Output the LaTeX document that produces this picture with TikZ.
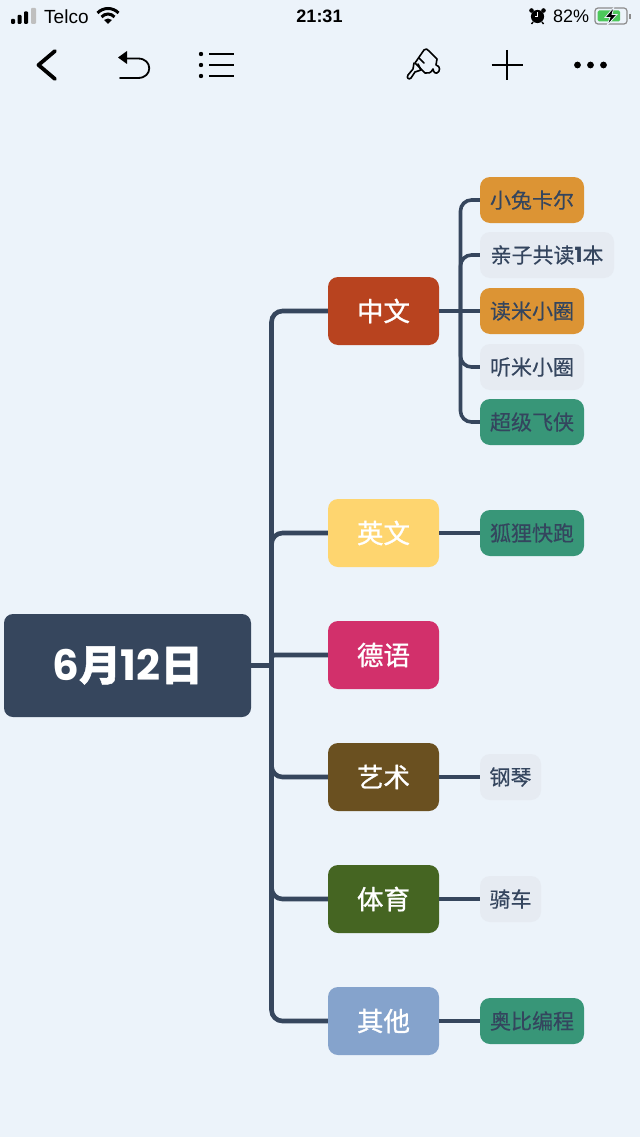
\documentclass[tikz,border=0pt]{standalone}
\usepackage{fontspec}
\setmainfont{Liberation Sans}
\newfontfamily\cjk[FakeBold=0.35]{Noto Sans CJK SC}
\newfontfamily\cjkmed[FakeBold=1.0]{Noto Sans CJK SC}
\newfontfamily\cjkroot[FakeBold=1.2]{Noto Sans CJK SC}
\newfontfamily\digits{Poppins}
\definecolor{bgc}{HTML}{ECF3FA}
\definecolor{linec}{HTML}{36465D}
\definecolor{leaftxt}{HTML}{34455E}
\definecolor{zhc}{HTML}{B8431F}
\definecolor{enc}{HTML}{FED56F}
\definecolor{dec}{HTML}{D2306B}
\definecolor{artc}{HTML}{6A5020}
\definecolor{sportc}{HTML}{456522}
\definecolor{otherc}{HTML}{85A3CC}
\definecolor{orangec}{HTML}{DC9434}
\definecolor{grayc}{HTML}{E6EBF2}
\definecolor{greenc}{HTML}{389678}
\definecolor{battc}{HTML}{4CC85A}
\tikzset{
  rootbox/.style={fill=linec,rounded corners=9pt,minimum width=247pt,minimum height=103pt,inner sep=0pt,text=white},
  branchbox/.style={rounded corners=10pt,minimum width=111pt,minimum height=68pt,inner sep=0pt,text=white,font=\cjkmed\fontsize{26.5}{26.5}\selectfont},
  leafbox/.style={rounded corners=10pt,minimum height=46pt,inner sep=0pt,text=leaftxt,font=\cjk\fontsize{21}{21}\selectfont},
  conn/.style={draw=linec,line width=4.6pt,rounded corners=11pt},
  thin conn/.style={draw=linec,line width=3.6pt,rounded corners=11pt},
  icon/.style={draw=black,line width=1.8pt,line cap=round,line join=round},
  statustext/.style={text=black,inner sep=0pt,font=\fontsize{18}{18}\selectfont}
}
\begin{document}
\begin{tikzpicture}[x=1pt,y=-1pt]
\useasboundingbox (0,0) rectangle (640,1137);
\fill[bgc] (0,0) rectangle (640,1137);
\coordinate (trunk) at (271.5,665.5);
\coordinate (zhbus) at (460.5,311);
\node[rootbox] (root) at (127.5,665.5) {\fontsize{42}{42}\selectfont\digits\bfseries 6{\cjkroot 月}12{\cjkroot 日}};
\node[branchbox,fill=zhc] (zh) at (383.5,311) {中文};
\node[branchbox,fill=enc] (en) at (383.5,533) {英文};
\node[branchbox,fill=dec] (de) at (383.5,655) {德语};
\node[branchbox,fill=artc] (art) at (383.5,777) {艺术};
\node[branchbox,fill=sportc] (sport) at (383.5,899) {体育};
\node[branchbox,fill=otherc] (other) at (383.5,1021) {其他};
\node[leafbox,fill=orangec,minimum width=104pt] (l1) at (532,200) {小兔卡尔};
\node[leafbox,fill=grayc,minimum width=134pt] (l2) at (547,255) {亲子共读{\digits\bfseries 1}本};
\node[leafbox,fill=orangec,minimum width=104pt] (l3) at (532,311) {读米小圈};
\node[leafbox,fill=grayc,minimum width=104pt] (l4) at (532,367) {听米小圈};
\node[leafbox,fill=greenc,minimum width=104pt] (l5) at (532,422) {超级飞侠};
\node[leafbox,fill=greenc,minimum width=104pt] (l6) at (532,533) {狐狸快跑};
\node[leafbox,fill=grayc,minimum width=61pt] (l7) at (510.5,777) {钢琴};
\node[leafbox,fill=grayc,minimum width=61pt] (l8) at (510.5,899) {骑车};
\node[leafbox,fill=greenc,minimum width=104pt] (l9) at (532,1021) {奥比编程};
\draw[conn] (root.east) -- (trunk);
\draw[conn] (trunk) |- (zh.west);
\draw[conn] (trunk) |- (en.west);
\draw[conn,rounded corners=3pt] (trunk) |- (de.west);
\draw[conn] (trunk) |- (art.west);
\draw[conn] (trunk) |- (sport.west);
\draw[conn] (trunk) |- (other.west);
\draw[thin conn] (zh.east) -- (l3.west);
\draw[thin conn] (zhbus) |- (l1.west);
\draw[thin conn] (zhbus) |- (l2.west);
\draw[thin conn] (zhbus) |- (l4.west);
\draw[thin conn] (zhbus) |- (l5.west);
\draw[thin conn] (en.east) -- (l6.west);
\draw[thin conn] (art.east) -- (l7.west);
\draw[thin conn] (sport.east) -- (l8.west);
\draw[thin conn] (other.east) -- (l9.west);
% status bar
\fill[black,rounded corners=1pt] (11,19) rectangle (15,24);
\fill[black,rounded corners=1pt] (17.5,15) rectangle (21.5,24);
\fill[black,rounded corners=1pt] (24,11.5) rectangle (28,24);
\fill[black!25,rounded corners=1pt] (31,8) rectangle (36,24);
\node[statustext,anchor=west,font=\fontsize{19}{19}\selectfont] (telco) at (44,16.5) {Telco};
\begin{scope}[line width=3pt,draw=black,line cap=butt]
\draw (97.5,13) .. controls (103,7) and (113,7) .. (118.5,13);
\draw (101.5,17) .. controls (105,13) and (111,13) .. (114.5,17);
\end{scope}
\fill[black] (104,20) .. controls (106.5,18) and (109.5,18) .. (112,20) -- (108,24) -- cycle;
\node[statustext,font=\bfseries\fontsize{18}{18}\selectfont,anchor=center] (clock) at (319.5,16.5) {21:31};
% alarm clock
\fill[black] (537.5,16.5) circle[radius=6.6pt];
\fill[black] (531.5,10.5) circle[radius=2.3pt];
\fill[black] (543.5,10.5) circle[radius=2.3pt];
\draw[black,line width=1.4pt] (533,22) -- (531.5,24);
\draw[black,line width=1.4pt] (542,22) -- (543.5,24);
\draw[white,line width=1pt] (537.5,12.5) -- (537.5,16.5) -- (534.5,16.5);
\node[statustext,anchor=west] (pct) at (553,16.5) {82\%};
% battery
\draw[black!45,line width=1.2pt,rounded corners=3pt] (595,8) rectangle (627,24);
\fill[battc,rounded corners=1.5pt] (597.5,10.5) rectangle (620,21.5);
\fill[black!45] (629,14) rectangle (630.5,19);
\fill[black,draw=bgc,line width=.8pt] (614,7) -- (605,17.5) -- (610,17.5) -- (607,25.5) -- (617,14.5) -- (612,14.5) -- cycle;
% toolbar
\draw[icon,line width=3.8pt] (55,51) -- (38.5,65) -- (55,79);
\draw[icon] (120,78) -- (138,78) .. controls (153,78) and (153,58.5) .. (138,58.5) -- (124,58.5);
\fill[black] (118,57.5) -- (127,51) -- (127,64) -- cycle;
\fill[black] (201,54) circle[radius=2.2pt] (201,65) circle[radius=2.2pt] (201,76) circle[radius=2.2pt];
\draw[icon,line cap=butt] (209,54) -- (234,54) (209,65) -- (234,65) (209,76) -- (234,76);
% brush
\draw[icon,line width=1.6pt] (424,50) .. controls (426,48) and (427,49) .. (429,51) -- (437,59) -- (436,65) .. controls (441,66) and (440,72) .. (437,73) .. controls (434,74) and (433,70) .. (433,69) .. controls (431,73) and (428,74) .. (425,73) -- (415,63) -- cycle;
\draw[icon,line width=1.6pt] (419,58) -- (424,63);
\draw[icon,line width=1.6pt] (418,64) -- (421,70) -- (415,72) -- (411,78) .. controls (409,80) and (406,78) .. (408,75) -- (413,69) -- (414,63);
\draw[icon,line width=1.8pt,line cap=butt] (507,50) -- (507,80) (491.5,65) -- (522.5,65);
\fill[black] (577.5,65) circle[radius=3.4pt] (590.5,65) circle[radius=3.4pt] (603.5,65) circle[radius=3.4pt];
\end{tikzpicture}
\end{document}
